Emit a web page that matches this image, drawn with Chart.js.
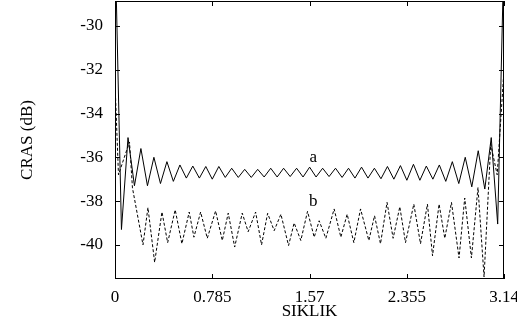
<!DOCTYPE html>
<html>
<head>
<meta charset="utf-8">
<script src="https://cdn.jsdelivr.net/npm/chart.js@4.4.0/dist/chart.umd.min.js"></script>
<style>
    html, body { margin: 0; padding: 0; background: #fff; }
    #wrap { width: 517px; height: 331px; }
</style>
</head>
<body>
<div id="wrap"><canvas id="myChart"></canvas></div>
<script>
// curve a (solid)
const freqA = [0, 0.052, 0.105, 0.157, 0.209, 0.262, 0.314, 0.367, 0.419, 0.471,
    0.524, 0.576, 0.628, 0.681, 0.733, 0.785, 0.838, 0.890, 0.942, 0.995,
    1.047, 1.100, 1.152, 1.204, 1.257, 1.309, 1.361, 1.414, 1.466, 1.518,
    1.571, 1.623, 1.676, 1.728, 1.780, 1.833, 1.885, 1.937, 1.990, 2.042,
    2.094, 2.147, 2.199, 2.251, 2.304, 2.356, 2.409, 2.461, 2.513, 2.566,
    2.618, 2.670, 2.723, 2.775, 2.827, 2.880, 2.932, 2.985, 3.037, 3.089, 3.142];
const crasA = [-26, -39.3, -35.1, -37.3, -35.6, -37.3, -36.0, -37.2, -36.2, -37.1,
    -36.35, -36.95, -36.4, -36.95, -36.42, -37.0, -36.42, -36.92, -36.5, -36.92,
    -36.55, -36.92, -36.55, -36.9, -36.5, -36.9, -36.5, -36.88, -36.5, -36.9,
    -36.45, -36.9, -36.5, -36.88, -36.5, -36.92, -36.5, -36.95, -36.45, -36.95,
    -36.5, -36.98, -36.42, -37.0, -36.38, -37.05, -36.32, -37.05, -36.4, -37.0,
    -36.35, -37.1, -36.2, -37.2, -36.0, -37.35, -35.7, -37.45, -35.1, -39.05, -26];

// curve b (dashed)
const freqB = [0, 0.028, 0.117, 0.141, 0.226, 0.266, 0.320, 0.379, 0.425, 0.486,
    0.540, 0.599, 0.637, 0.691, 0.745, 0.812, 0.866, 0.914, 0.966, 1.027,
    1.075, 1.135, 1.183, 1.232, 1.285, 1.339, 1.401, 1.446, 1.500, 1.554,
    1.608, 1.648, 1.702, 1.769, 1.823, 1.874, 1.928, 1.982, 2.049, 2.095,
    2.143, 2.196, 2.245, 2.299, 2.345, 2.412, 2.466, 2.522, 2.563, 2.616,
    2.662, 2.716, 2.777, 2.823, 2.877, 2.930, 2.979, 3.033, 3.085, 3.140];
const crasB = [-32.6, -36.8, -35.3, -37.4, -40.0, -38.3, -40.8, -38.5, -39.9, -38.4,
    -39.95, -38.5, -39.65, -38.5, -39.7, -38.45, -39.8, -38.55, -40.1, -38.55,
    -39.4, -38.5, -40.0, -38.56, -39.35, -38.6, -40.03, -39.0, -39.8, -38.47,
    -39.65, -38.9, -39.7, -38.36, -39.65, -38.6, -39.9, -38.36, -39.8, -38.67,
    -39.95, -38.06, -39.7, -38.26, -39.9, -38.14, -39.95, -38.14, -40.5, -38.14,
    -39.7, -38.06, -40.6, -37.86, -40.6, -37.38, -41.47, -35.4, -36.8, -32.0];

const xTicks = [0, 0.785, 1.57, 2.355, 3.14];
const yTicks = [-40, -38, -36, -34, -32, -30];
const curveLabels = [
    { text: "a", x: 1.6, y: -36.0 },
    { text: "b", x: 1.6, y: -38.0 }
];

const serif = { family: "'Liberation Serif', 'Times New Roman', serif", size: 17 };

// box round the plot, inward ticks on all four sides, curve letters
const framePlugin = {
    id: "frame",
    afterDatasetsDraw(chart) {
        const { ctx, chartArea: a, scales: { x, y } } = chart;
        ctx.save();
        ctx.strokeStyle = "#000";
        ctx.lineWidth = 1;
        ctx.strokeRect(a.left + 0.5, a.top + 0.5, a.right - a.left - 1, a.bottom - a.top - 1);
        ctx.beginPath();
        xTicks.forEach(v => {
            const px = Math.round(x.getPixelForValue(v)) + 0.5;
            ctx.moveTo(px, a.bottom); ctx.lineTo(px, a.bottom - 5);
            ctx.moveTo(px, a.top); ctx.lineTo(px, a.top + 5);
        });
        yTicks.forEach(v => {
            const py = Math.round(y.getPixelForValue(v)) + 0.5;
            ctx.moveTo(a.left, py); ctx.lineTo(a.left + 5, py);
            ctx.moveTo(a.right, py); ctx.lineTo(a.right - 5, py);
        });
        ctx.stroke();
        ctx.font = serif.size + "px " + serif.family;
        ctx.fillStyle = "#000";
        ctx.textAlign = "center";
        ctx.textBaseline = "middle";
        curveLabels.forEach(l => {
            ctx.fillText(l.text, x.getPixelForValue(l.x), y.getPixelForValue(l.y));
        });
        ctx.restore();
    }
};

function init() {
    const ctx = document.getElementById("myChart");

    new Chart(ctx, {
        type: "line",
        data: {
            datasets: [
                {
                    label: "a",
                    data: freqA.map((f, i) => ({ x: f, y: crasA[i] })),
                    borderColor: "#000",
                    borderWidth: 1,
                    pointRadius: 0,
                    tension: 0,
                    fill: false
                },
                {
                    label: "b",
                    data: freqB.map((f, i) => ({ x: f, y: crasB[i] })),
                    borderColor: "#000",
                    borderWidth: 1,
                    borderDash: [3, 2],
                    pointRadius: 0,
                    tension: 0,
                    fill: false
                }
            ]
        },
        options: {
            responsive: true,
            maintainAspectRatio: false,
            animation: false,
            layout: { padding: { left: 0, right: 13, top: 1, bottom: 0 } },
            plugins: {
                legend: { display: false },
                tooltip: { enabled: false }
            },
            scales: {
                x: {
                    type: "linear",
                    min: 0,
                    max: 3.14,
                    afterBuildTicks: s => { s.ticks = xTicks.map(v => ({ value: v })); },
                    afterFit: s => {
                        s.height = 52;
                        s.paddingLeft = 0;
                        s.paddingRight = 0;
                    },
                    grid: { display: false, drawTicks: false },
                    border: { display: false },
                    ticks: {
                        color: "#000",
                        font: serif,
                        padding: 8,
                        maxRotation: 0,
                        autoSkip: false,
                        callback: v => String(v)
                    },
                    title: {
                        display: true,
                        text: "SIKLIK",
                        color: "#000",
                        font: serif,
                        padding: 9
                    }
                },
                y: {
                    type: "linear",
                    min: -41.56,
                    max: -28.86,
                    afterBuildTicks: s => { s.ticks = yTicks.map(v => ({ value: v })); },
                    afterFit: s => {
                        s.width = 115;
                        s.paddingTop = 0;
                        s.paddingBottom = 0;
                    },
                    grid: { display: false, drawTicks: false },
                    border: { display: false },
                    ticks: {
                        color: "#000",
                        font: serif,
                        padding: 12,
                        callback: v => String(v)
                    },
                    title: {
                        display: true,
                        text: "CRAS (dB)",
                        color: "#000",
                        font: serif,
                        padding: 17
                    }
                }
            }
        },
        plugins: [framePlugin]
    });
}

window.onload = () => {
    init();
};
</script>
</body>
</html>
